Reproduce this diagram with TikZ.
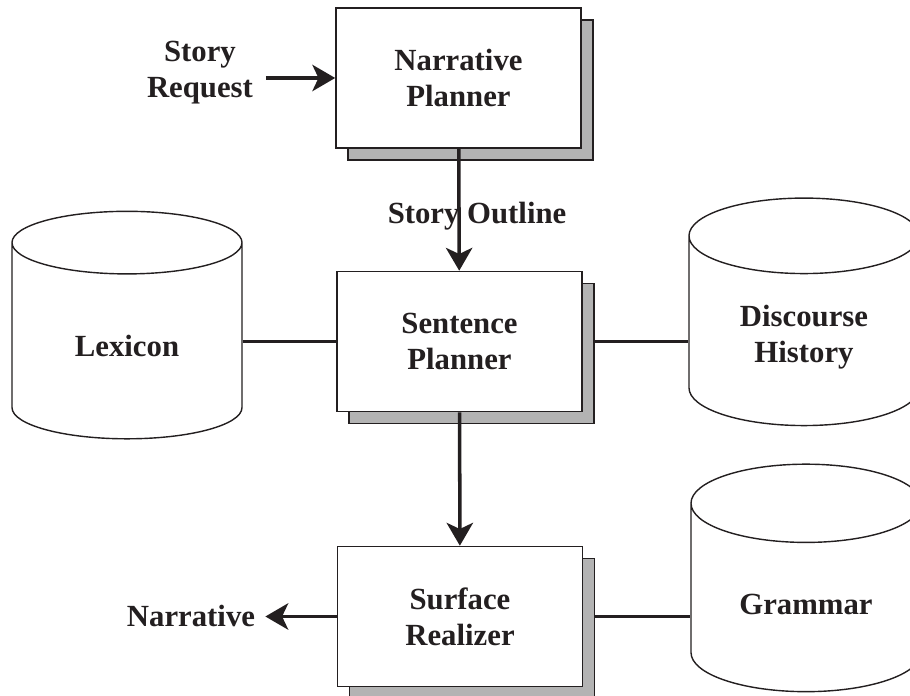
\documentclass[tikz,border=0pt]{standalone}
\usepackage{fontspec}
\setmainfont{Liberation Serif}
\usetikzlibrary{arrows.meta,positioning,calc,shapes.geometric,shadows}
\definecolor{ink}{HTML}{231F20}
\definecolor{shade}{HTML}{B3B3B3}

\begin{document}
\begin{tikzpicture}[
  box/.style={draw=ink, fill=white, line width=0.9pt, align=center, minimum width=4.9cm, minimum height=2.8cm,
    font=\fontsize{17.5}{20.5}\selectfont\bfseries, text=ink,
    copy shadow={shadow xshift=0.24cm, shadow yshift=-0.24cm, fill=shade, draw=ink, line width=0.9pt}},
  store/.style={cylinder, shape border rotate=90, aspect=0.54, draw=ink, fill=white, line width=0.8pt, align=center,
    minimum width=4.6cm, minimum height=4.55cm, font=\fontsize{17.5}{20.5}\selectfont\bfseries, text=ink},
  note/.style={align=center, inner sep=0.1cm, font=\fontsize{17.5}{20.5}\selectfont\bfseries, text=ink},
  arr/.style={-{Stealth[length=13pt, width=15pt, inset=3.5pt]}, draw=ink, line width=2pt},
  link/.style={draw=ink, line width=2pt}
]
\useasboundingbox (0,0) rectangle (18.2,-13.92);

\node[box] (np) at (9.17,-1.56) {Narrative\\Planner};
\node[box] (sp) at (9.19,-6.83) {Sentence\\Planner};
\node[box] (sr) at (9.20,-12.33) {Surface\\Realizer};

\node[store] (lex) at (2.54,-6.92) {Lexicon};
\node[store] (hist) at (16.08,-6.74) {Discourse\\History};
\node[store] (gram) at (16.12,-12.08) {Grammar};

\node[note] (req) at (4.0,-1.46) {Story\\Request};
\node[note] (out) at (3.82,-12.32) {Narrative};

\draw[arr] ($(req.east |- np.west)+(0.15,0)$) -- (np.west);
\draw[arr] (np) -- node[note, pos=0.55, xshift=0.36cm] {Story Outline} (sp);
\draw[arr] (sp) -- (sr);
\draw[arr] (sr.west) -- ($(out.east |- sr.west)+(0.1,0)$);

\draw[link] (lex.east |- sp.west) -- (sp.west);
\draw[link] ($(sp.east)+(0.24,0)$) -- (hist.west |- sp.east);
\draw[link] ($(sr.east)+(0.24,0)$) -- (gram.west |- sr.east);

\end{tikzpicture}
\end{document}
